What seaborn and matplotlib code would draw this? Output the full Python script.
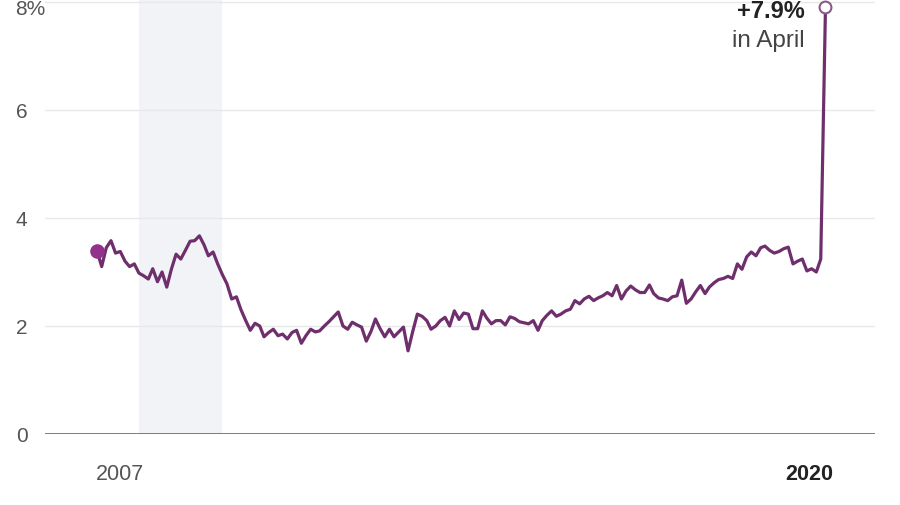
import pandas as pd
import numpy as np
import matplotlib
matplotlib.use("Agg")
import matplotlib.pyplot as plt
import matplotlib.transforms as mtransforms
import seaborn as sns

# year-over-year change, monthly, March 2007 .. April 2020
vals_2007 = [3.39, 3.10, 3.45, 3.58, 3.35, 3.38, 3.20, 3.10, 3.15, 2.98]
vals_2008 = [2.93, 2.87, 3.06, 2.82, 3.00, 2.72, 3.05, 3.33, 3.24, 3.40, 3.57, 3.58]
vals_2009 = [3.67, 3.50, 3.30, 3.37, 3.15, 2.95, 2.78, 2.50, 2.54, 2.30, 2.10, 1.92]
vals_2010 = [2.05, 2.00, 1.80, 1.88, 1.94, 1.82, 1.85, 1.76, 1.88, 1.92, 1.68, 1.82]
vals_2011 = [1.94, 1.89, 1.91, 2.00, 2.08, 2.17, 2.26, 2.00, 1.94, 2.07, 2.02, 1.98]
vals_2012 = [1.72, 1.90, 2.13, 1.95, 1.80, 1.94, 1.80, 1.89, 1.98, 1.54, 1.90, 2.22]
vals_2013 = [2.18, 2.10, 1.94, 2.00, 2.10, 2.16, 2.00, 2.28, 2.12, 2.24, 2.22, 1.95]
vals_2014 = [1.95, 2.28, 2.15, 2.04, 2.10, 2.10, 2.02, 2.17, 2.14, 2.08, 2.06, 2.04]
vals_2015 = [2.10, 1.92, 2.10, 2.20, 2.28, 2.18, 2.22, 2.28, 2.31, 2.47, 2.41, 2.50]
vals_2016 = [2.55, 2.47, 2.52, 2.56, 2.62, 2.56, 2.75, 2.50, 2.65, 2.74, 2.67, 2.62]
vals_2017 = [2.62, 2.76, 2.60, 2.52, 2.50, 2.47, 2.54, 2.56, 2.85, 2.42, 2.50, 2.63]
vals_2018 = [2.75, 2.60, 2.72, 2.80, 2.86, 2.88, 2.92, 2.88, 3.15, 3.05, 3.28, 3.37]
vals_2019 = [3.30, 3.45, 3.48, 3.40, 3.35, 3.38, 3.43, 3.46, 3.15, 3.20, 3.24, 3.02]
vals_2020 = [3.06, 3.00, 3.24, 7.90]

values = (vals_2007 + vals_2008 + vals_2009 + vals_2010 + vals_2011 + vals_2012 +
          vals_2013 + vals_2014 + vals_2015 + vals_2016 + vals_2017 + vals_2018 +
          vals_2019 + vals_2020)
dates = pd.date_range("2007-03-01", periods=len(values), freq="MS")
df = pd.DataFrame({"date": dates, "value": values})

recession = (pd.Timestamp("2007-12-01"), pd.Timestamp("2009-06-01"))
yticks = [0, 2, 4, 6, 8]
ytick_labels = ["0", "2", "4", "6", "8%"]
xtick_dates = [pd.Timestamp("2007-08-01"), pd.Timestamp("2019-12-15")]
xtick_labels = ["2007", "2020"]

sns.set_theme(style="white")
plt.rcParams["font.family"] = ["Liberation Sans", "DejaVu Sans"]

line_col = "#6e2f6c"

fig = plt.figure(figsize=(9, 5.06), dpi=100)
ax = fig.add_axes([45 / 900, (506 - 435) / 506, 830 / 900, 435 / 506])

ax.axvspan(recession[0], recession[1], color="#f1f3f6", zorder=0, lw=0)
for y in yticks[1:]:
    ax.axhline(y, color="#e8e8e8", lw=1, zorder=1)
ax.axhline(0, color="#555555", lw=1.8, zorder=2)

sns.lineplot(data=df, x="date", y="value", ax=ax, color=line_col, lw=2.3, zorder=3)

ax.plot(df["date"].iloc[0], df["value"].iloc[0], "o", ms=9.5, color="#93328c",
        zorder=4, clip_on=False)
ax.plot(df["date"].iloc[-1], df["value"].iloc[-1], "o", ms=8.5, mfc="white",
        mec="#8a5a85", mew=1.5, zorder=4, clip_on=False)

ax.annotate("+7.9%", xy=(df["date"].iloc[-1], df["value"].iloc[-1]),
            xytext=(-15, -7), textcoords="offset points", ha="right", va="baseline",
            fontsize=17, fontweight="bold", color="#222222", annotation_clip=False)
ax.annotate("in April", xy=(df["date"].iloc[-1], df["value"].iloc[-1]),
            xytext=(-15, -28), textcoords="offset points", ha="right", va="baseline",
            fontsize=17.5, color="#444444", annotation_clip=False)

ax.set_xlim(pd.Timestamp("2006-03-25"), pd.Timestamp("2021-02-20"))
ax.set_ylim(0, 435 / 54)
ax.set_yticks(yticks[:-1])
ax.set_yticklabels(ytick_labels[:-1], fontsize=15, color="#555555")
for lab in ax.get_yticklabels():
    lab.set_ha("left")
ax.tick_params(axis="y", length=0, pad=21)
# top label sits just inside the picture
ax.text(-30 / 830, 1.0, ytick_labels[-1], transform=ax.transAxes, ha="left",
        va="top", fontsize=15, color="#555555")
ax.set_xticks(xtick_dates)
ax.set_xticklabels(xtick_labels, fontsize=15.5, color="#555555")
ax.get_xticklabels()[1].set_fontweight("bold")
ax.get_xticklabels()[1].set_color("#222222")
ax.tick_params(axis="x", length=0, pad=21)
ax.set_xlabel("")
ax.set_ylabel("")
sns.despine(ax=ax, left=True, bottom=True)

fig.savefig("out.png", dpi=100)
